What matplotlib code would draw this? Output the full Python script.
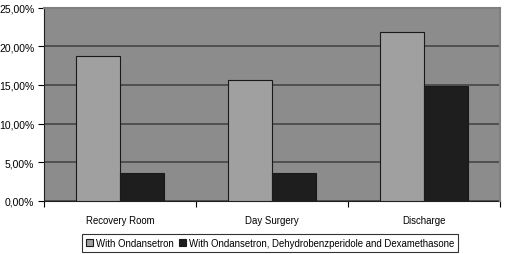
import numpy as np
import matplotlib.pyplot as plt
from matplotlib.ticker import FuncFormatter

plt.rcParams['font.family'] = ['Liberation Sans', 'DejaVu Sans']

# dati
categorie = ['Recovery Room', 'Day Surgery', 'Discharge']
ondansetron = [18.8, 15.6, 21.9]
combinazione = [3.6, 3.6, 14.9]
serie = ['With Ondansetron', 'With Ondansetron, Dehydrobenzperidole and Dexamethasone']

fig = plt.figure(figsize=(5.06, 2.55), dpi=100)
ax = fig.add_axes([44/506, 1-201.7/255, 456/506, 193/255])

x = np.arange(len(categorie))
w = 0.29
ax.bar(x - w/2, ondansetron, w, color='#a0a0a0', edgecolor='#1a1a1a', linewidth=0.8, label=serie[0], zorder=3)
ax.bar(x + w/2, combinazione, w, color='#1e1e1e', edgecolor='#1a1a1a', linewidth=0.8, label=serie[1], zorder=3)

ax.set_facecolor('#8c8c8c')
ax.set_xlim(-0.5, 2.5)
ax.set_ylim(0, 25)
ax.set_yticks(np.arange(0, 26, 5))
ax.yaxis.set_major_formatter(FuncFormatter(lambda v, p: '{:.2f}%'.format(v).replace('.', ',')))
ax.grid(axis='y', color='#404040', linewidth=1.1, zorder=1)

ax.set_xticks(x)
ax.set_xticklabels(categorie)
ax.set_xticks([-0.5, 0.5, 1.5, 2.5], minor=True)
ax.tick_params(axis='x', which='major', length=0, pad=10, labelsize=6.9)
ax.tick_params(axis='x', which='minor', length=4, width=0.8, direction='out')
ax.tick_params(axis='y', length=4, width=0.8, pad=3, labelsize=7.5)

for s in ['top', 'right']:
    ax.spines[s].set_color('#808080')
    ax.spines[s].set_linewidth(1.5)
    ax.spines[s].set_zorder(4)
ax.spines['left'].set_color('#202020')
ax.spines['bottom'].set_color('#202020')

leg = fig.legend(loc='center', bbox_to_anchor=(270/506, 1-244/255), ncol=2, fontsize=6.9,
                 frameon=True, fancybox=False, edgecolor='black', handlelength=0.7,
                 handleheight=0.7, handletextpad=0.3, columnspacing=0.6,
                 borderpad=0.4, borderaxespad=0)
leg.get_frame().set_linewidth(0.8)

plt.savefig('out.png', dpi=100)
